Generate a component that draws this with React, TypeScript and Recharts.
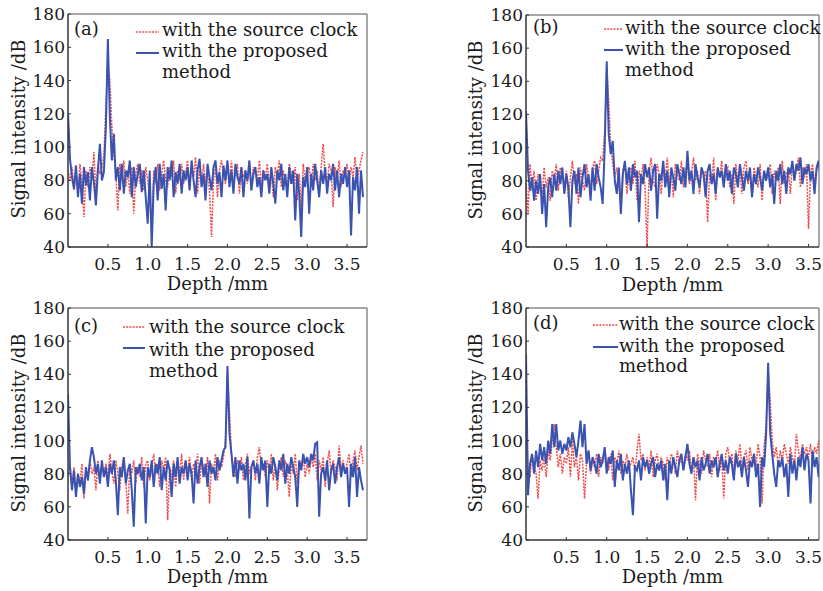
import React from 'react';
import { LineChart, Line, XAxis, YAxis, ReferenceLine } from 'recharts';

const FONT = '"DejaVu Serif", serif';
const RED = '#ee4b4b';
const BLUE = '#3a52b0';

// depth samples (mm), 0.025 mm spacing, 0 .. 3.7
const depth = Array.from({ length: 149 }, (_, i) => Math.round(i * 25) / 1000);
const xTicks = [0.5, 1.0, 1.5, 2.0, 2.5, 3.0, 3.5];
const yTicks = [40, 60, 80, 100, 120, 140, 160, 180];

const seriesNames = ['with the source clock', 'with the proposed method'];

// (a) peak at 0.5 mm
const aSource = [
  86, 80, 88, 74, 84, 72, 90, 78, 58, 86, 76, 88, 80, 97, 72, 90, 84, 88, 95, 125,
  150, 140, 112, 96, 84, 62, 90, 80, 92, 76, 86, 72, 88, 60, 84, 90, 78, 86, 74, 88,
  80, 70, 50, 86, 78, 90, 74, 84, 92, 80, 76, 88, 82, 92, 72, 86, 80, 90, 78, 84,
  92, 76, 88, 82, 94, 72, 86, 80, 90, 78, 84, 74, 46, 80, 88, 70, 86, 92, 84, 78,
  88, 80, 92, 76, 84, 90, 72, 88, 82, 86, 78, 90, 74, 88, 84, 80, 92, 76, 86, 82,
  90, 78, 84, 70, 88, 82, 92, 76, 86, 80, 74, 90, 84, 78, 88, 68, 84, 62, 90, 80,
  84, 88, 76, 90, 80, 86, 72, 88, 102, 84, 78, 90, 86, 64, 88, 80, 92, 76, 86, 84,
  90, 78, 88, 82, 94, 80, 86, 92, 97,
];
const aProposed = [
  120, 93, 82, 75, 89, 70, 84, 66, 88, 77, 85, 68, 88, 79, 65, 86, 102, 80, 85, 112,
  165, 118, 92, 108, 80, 88, 74, 90, 72, 86, 82, 92, 70, 88, 76, 84, 90, 73, 86, 70,
  54, 86, 40, 78, 88, 68, 90, 75, 84, 62, 88, 80, 92, 70, 85, 78, 90, 72, 86, 80,
  88, 74, 92, 80, 70, 86, 93, 76, 84, 68, 90, 82, 74, 88, 92, 78, 85, 70, 89, 80,
  92, 76, 86, 72, 90, 82, 78, 88, 70, 86, 80, 92, 74, 84, 88, 76, 82, 70, 86, 80,
  84, 72, 88, 78, 66, 86, 80, 90, 74, 84, 70, 88, 78, 86, 56, 84, 72, 46, 82, 76,
  88, 60, 84, 74, 90, 80, 70, 86, 78, 88, 72, 84, 80, 90, 74, 86, 70, 84, 78, 88,
  76, 86, 47, 82, 74, 88, 60, 86, 70,
];

// (b) peak at 1.0 mm
const bSource = [
  80, 60, 90, 74, 86, 68, 84, 78, 72, 88, 76, 82, 68, 86, 80, 90, 74, 88, 82, 76,
  86, 70, 82, 92, 78, 84, 66, 88, 80, 74, 90, 82, 76, 88, 92, 78, 86, 94, 92, 110,
  148, 128, 100, 90, 82, 88, 76, 66, 86, 90, 72, 84, 88, 78, 92, 68, 86, 80, 90, 76,
  40, 86, 94, 80, 76, 90, 84, 72, 88, 82, 94, 78, 86, 70, 90, 84, 80, 92, 76, 86,
  90, 78, 84, 94, 80, 86, 72, 88, 82, 86, 55, 84, 78, 94, 68, 88, 82, 92, 76, 86,
  88, 76, 84, 66, 90, 80, 86, 72, 88, 92, 78, 84, 70, 88, 82, 76, 90, 68, 86, 80,
  84, 90, 72, 86, 80, 88, 66, 92, 78, 84, 88, 72, 90, 80, 86, 94, 76, 88, 82, 90,
  51, 84, 90, 78, 86, 92, 80, 88, 98,
];
const bProposed = [
  122, 86, 74, 82, 68, 80, 72, 84, 60, 78, 52, 76, 82, 70, 84, 74, 86, 78, 88, 72,
  84, 76, 52, 80, 86, 72, 88, 70, 82, 90, 76, 84, 68, 88, 74, 90, 82, 76, 66, 100,
  152, 108, 96, 104, 80, 72, 88, 60, 84, 92, 78, 88, 74, 90, 82, 86, 55, 84, 78, 90,
  82, 88, 74, 86, 90, 57, 84, 80, 92, 76, 86, 70, 88, 82, 74, 90, 84, 78, 88, 76,
  98, 80, 86, 72, 90, 82, 76, 88, 84, 70, 86, 90, 78, 84, 72, 88, 82, 86, 76, 90,
  80, 86, 72, 88, 84, 76, 90, 82, 74, 86, 80, 88, 70, 84, 78, 88, 82, 74, 86, 80,
  88, 76, 84, 66, 86, 80, 90, 78, 86, 72, 88, 84, 92, 80, 90, 86, 94, 78, 88, 84,
  90, 80, 86, 72, 88, 92, 82, 90, 86,
];

// (c) peak at 2.0 mm
const cSource = [
  78, 86, 72, 84, 68, 80, 74, 86, 65, 82, 76, 88, 80, 84, 70, 88, 76, 84, 80, 86,
  78, 92, 82, 74, 88, 80, 70, 84, 90, 76, 56, 86, 80, 88, 74, 84, 78, 90, 72, 86,
  88, 76, 84, 92, 80, 86, 72, 88, 82, 90, 52, 84, 78, 88, 72, 86, 80, 92, 76, 88,
  82, 90, 76, 86, 80, 92, 74, 88, 84, 78, 90, 62, 86, 80, 92, 76, 88, 84, 90, 100,
  140, 118, 92, 84, 78, 88, 82, 90, 76, 86, 92, 80, 84, 88, 76, 90, 96, 82, 86, 78,
  88, 80, 92, 76, 86, 70, 84, 90, 78, 88, 82, 66, 86, 80, 92, 74, 88, 84, 90, 78,
  86, 80, 90, 84, 92, 76, 88, 82, 90, 72, 86, 94, 80, 88, 84, 76, 97, 82, 88, 80,
  86, 92, 78, 88, 94, 82, 90, 97, 86,
];
const cProposed = [
  128, 84, 70, 82, 66, 80, 72, 78, 68, 84, 76, 88, 96, 90, 80, 86, 74, 88, 78, 84,
  72, 86, 80, 88, 76, 55, 84, 78, 90, 74, 82, 86, 70, 48, 84, 80, 86, 76, 84, 50,
  84, 78, 88, 72, 86, 80, 90, 70, 84, 76, 88, 82, 66, 86, 78, 90, 74, 84, 80, 88,
  76, 86, 80, 62, 88, 74, 84, 90, 78, 86, 72, 88, 80, 84, 76, 90, 82, 88, 94, 96,
  145, 104, 92, 78, 90, 74, 88, 82, 86, 76, 90, 53, 84, 88, 80, 86, 74, 90, 82, 88,
  60, 86, 80, 90, 84, 76, 88, 82, 92, 74, 86, 80, 90, 84, 78, 60, 88, 82, 92, 86,
  90, 84, 92, 88, 98, 99, 54, 80, 84, 76, 88, 70, 82, 86, 74, 84, 90, 78, 86, 80,
  84, 60, 86, 78, 90, 66, 84, 76, 70,
];

// (d) peak at 3.0 mm
const dSource = [
  108, 84, 78, 92, 86, 80, 65, 88, 82, 90, 78, 94, 88, 100, 110, 96, 84, 92, 80, 90,
  86, 96, 78, 100, 84, 90, 76, 92, 88, 65, 86, 94, 80, 88, 84, 92, 78, 90, 86, 94,
  88, 82, 92, 76, 90, 86, 94, 80, 88, 84, 92, 84, 86, 90, 80, 94, 104, 88, 92, 82,
  90, 84, 94, 78, 88, 92, 82, 90, 86, 76, 90, 84, 92, 88, 80, 94, 86, 90, 82, 92,
  88, 94, 82, 90, 64, 92, 86, 80, 94, 88, 84, 92, 78, 90, 86, 94, 82, 90, 65, 92,
  96, 86, 92, 80, 94, 88, 98, 84, 90, 94, 82, 96, 88, 92, 84, 98, 90, 62, 96, 110,
  142, 125, 100, 90, 96, 84, 94, 88, 98, 92, 86, 96, 90, 84, 104, 94, 88, 98, 92, 96,
  90, 98, 86, 96, 92, 100, 88, 96, 104,
];
const dProposed = [
  152, 67, 86, 92, 80, 94, 84, 98, 88, 96, 86, 100, 92, 110, 96, 110, 94, 100, 92, 98,
  94, 102, 96, 105, 98, 90, 100, 112, 96, 110, 86, 94, 82, 90, 86, 80, 92, 84, 88, 96,
  80, 90, 86, 94, 72, 88, 82, 92, 76, 86, 80, 88, 70, 55, 84, 82, 88, 76, 90, 84,
  88, 80, 86, 90, 78, 86, 82, 88, 76, 86, 64, 88, 80, 90, 84, 78, 88, 92, 82, 90,
  98, 86, 80, 90, 84, 88, 76, 90, 82, 86, 92, 80, 88, 84, 90, 78, 86, 92, 82, 88,
  80, 90, 86, 76, 92, 84, 88, 78, 90, 82, 72, 88, 84, 92, 78, 86, 60, 90, 84, 104,
  147, 105, 92, 80, 72, 88, 84, 90, 78, 86, 66, 92, 80, 88, 76, 90, 84, 96, 82, 92,
  88, 62, 94, 84, 90, 78, 92, 86, 65,
];

type PanelProps = {
  left: number; top: number; width: number; height: number;
  mTop: number; mRight: number; xMax: number;
  source: number[]; proposed: number[];
};

function Panel({ left, top, width, height, mTop, mRight, xMax, source, proposed }: PanelProps) {
  const data = depth.map((d, i) => ({ depth: d, source: source[i], proposed: proposed[i] }));
  const tickStyle = { fill: '#1a1a1a', fontSize: 17, fontFamily: FONT };
  return (
    <div style={{ position: 'absolute', left, top, width, height }}>
      <LineChart width={width} height={height} data={data}
        margin={{ top: mTop, right: mRight, bottom: 0, left: 0 }}>
        <XAxis type="number" dataKey="depth" domain={[0, xMax]} ticks={xTicks} interval={0}
          allowDataOverflow tickFormatter={(v: number) => v.toFixed(1)} height={48}
          tickSize={-3} tickMargin={14} tick={tickStyle}
          axisLine={{ stroke: '#333', strokeWidth: 1.5 }} tickLine={{ stroke: '#333' }} />
        <YAxis type="number" domain={[40, 180]} ticks={yTicks} interval={0} allowDataOverflow
          width={68} tickSize={-3} tickMargin={6} tick={tickStyle}
          axisLine={{ stroke: '#333', strokeWidth: 1.5 }} tickLine={{ stroke: '#333' }} />
        <ReferenceLine y={180} stroke="#8a8a8a" strokeWidth={1.5} />
        <ReferenceLine x={xMax} stroke="#8a8a8a" strokeWidth={1.5} />
        <Line type="linear" dataKey="source" name={seriesNames[0]} stroke={RED}
          strokeDasharray="2 1.2" strokeWidth={1.5} dot={false} isAnimationActive={false} />
        <Line type="linear" dataKey="proposed" name={seriesNames[1]} stroke={BLUE}
          strokeWidth={2} dot={false} isAnimationActive={false} />
      </LineChart>
    </div>
  );
}

type LegendSpec = { tag: string; tagX: number; sx1: number; sx2: number; tx: number; b1: number; b2: number; b3: number; ry: number; by: number };

function LegendBlock({ tag, tagX, sx1, sx2, tx, b1, b2, b3, ry, by }: LegendSpec) {
  return (
    <g fontFamily={FONT} fontSize={18} fill="#1a1a1a">
      <text x={tagX} y={b1 - 1}>{tag}</text>
      <line x1={sx1} x2={sx2} y1={ry} y2={ry} stroke={RED} strokeWidth={1.5} strokeDasharray="2 1.2" />
      <text x={tx} y={b1}>with the source clock</text>
      <line x1={sx1} x2={sx2} y1={by} y2={by} stroke={BLUE} strokeWidth={2} />
      <text x={tx} y={b2}>with the proposed</text>
      <text x={tx} y={b3}>method</text>
    </g>
  );
}

export default function App() {
  return (
    <div style={{ position: 'absolute', left: 0, top: 0, width: 823, height: 591, background: '#fff', overflow: 'hidden' }}>
      <Panel left={0} top={0} width={380} height={295} mTop={14} mRight={13} xMax={3.75} source={aSource} proposed={aProposed} />
      <Panel left={458} top={0} width={365} height={295} mTop={15} mRight={4} xMax={3.63} source={bSource} proposed={bProposed} />
      <Panel left={0} top={295} width={380} height={293} mTop={13} mRight={13} xMax={3.75} source={cSource} proposed={cProposed} />
      <Panel left={458} top={295} width={365} height={293} mTop={13} mRight={4} xMax={3.63} source={dSource} proposed={dProposed} />
      <svg width={823} height={591} style={{ position: 'absolute', left: 0, top: 0, pointerEvents: 'none' }}>
        <g fontFamily={FONT} fontSize={18} fill="#1a1a1a" textAnchor="middle">
          <text transform="translate(18,129) rotate(-90)" dominantBaseline="central">Signal intensity /dB</text>
          <text transform="translate(475,130) rotate(-90)" dominantBaseline="central">Signal intensity /dB</text>
          <text transform="translate(18,423) rotate(-90)" dominantBaseline="central">Signal intensity /dB</text>
          <text transform="translate(475,423) rotate(-90)" dominantBaseline="central">Signal intensity /dB</text>
          <text x={217.5} y={290}>Depth /mm</text>
          <text x={672.5} y={291}>Depth /mm</text>
          <text x={217.5} y={583}>Depth /mm</text>
          <text x={672.5} y={583}>Depth /mm</text>
        </g>
        <LegendBlock tag="(a)" tagX={74} sx1={136} sx2={159} tx={162} b1={36} b2={57} b3={78} ry={32} by={53} />
        <LegendBlock tag="(b)" tagX={533} sx1={604} sx2={623} tx={625} b1={34} b2={55} b3={76} ry={29} by={50} />
        <LegendBlock tag="(c)" tagX={74} sx1={123} sx2={145} tx={149} b1={333} b2={356} b3={377} ry={327} by={348} />
        <LegendBlock tag="(d)" tagX={533} sx1={593} sx2={618} tx={619} b1={330} b2={352} b3={372} ry={325} by={347} />
      </svg>
    </div>
  );
}
